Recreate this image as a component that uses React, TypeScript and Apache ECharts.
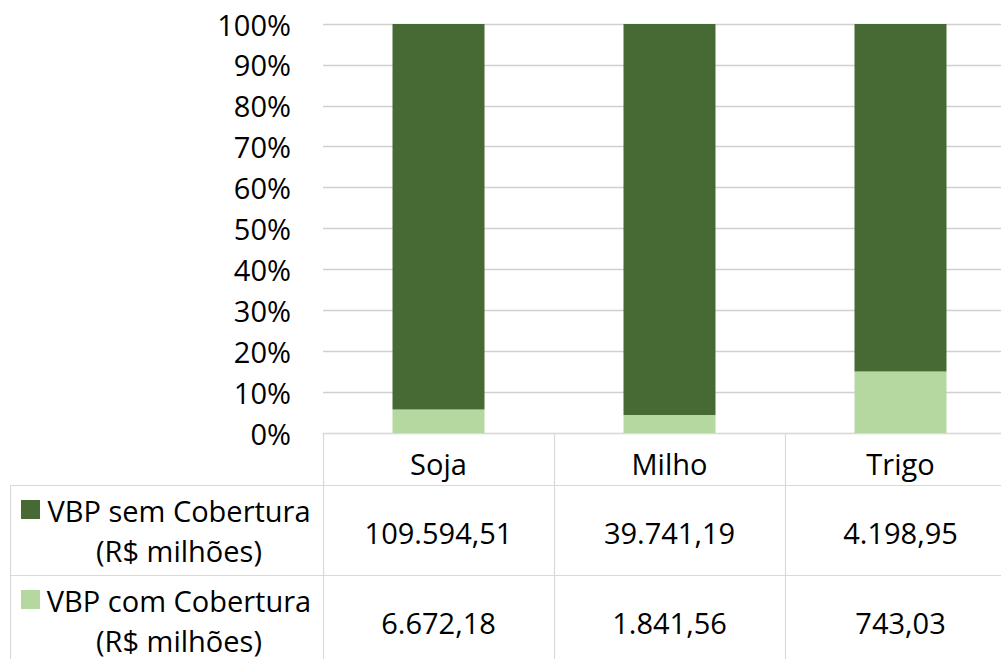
import React, { useEffect, useRef } from "react";
import * as echarts from "echarts";

const categories = ["Soja", "Milho", "Trigo"];
const seriesNames = ["VBP sem Cobertura", "VBP com Cobertura"];
const unitLabel = "(R$ milhões)";
const semCobertura = [109594.51, 39741.19, 4198.95];
const comCobertura = [6672.18, 1841.56, 743.03];
const semLabels = ["109.594,51", "39.741,19", "4.198,95"];
const comLabels = ["6.672,18", "1.841,56", "743,03"];

const DARK = "#476A34";
const LIGHT = "#B5D8A1";
const FONT = "'Open Sans', sans-serif";
const FS = 29;
const LINE = "#d9d9d9";

export default function App() {
  const ref = useRef<HTMLDivElement>(null);
  useEffect(() => {
    if (!ref.current) return;
    const chart = echarts.init(ref.current, null, { renderer: "svg" });
    const W = 1030;
    const H = 659;
    const gridLeft = 323;
    const gridTop = 24;
    const gridW = 693;
    const gridH = 409;
    const axisY = gridTop + gridH;
    const catW = gridW / categories.length;
    const totals = categories.map((_, i) => semCobertura[i] + comCobertura[i]);
    const comPct = comCobertura.map((v, i) => (v / totals[i]) * 100);
    const semPct = semCobertura.map((v, i) => (v / totals[i]) * 100);

    const row1Top = 485;
    const row2Top = 575;
    const rowH = 90;

    const graphics: any[] = [];
    const hline = (y: number, x1: number, x2: number) =>
      graphics.push({
        type: "line",
        shape: { x1, y1: y + 0.5, x2, y2: y + 0.5 },
        style: { stroke: LINE, lineWidth: 1.2 },
        silent: true,
      });
    const vline = (x: number, y1: number, y2: number) =>
      graphics.push({
        type: "line",
        shape: { x1: x + 0.5, y1, x2: x + 0.5, y2 },
        style: { stroke: LINE, lineWidth: 1.2 },
        silent: true,
      });
    hline(row1Top, 10, W);
    hline(row2Top, 10, W);
    vline(10, row1Top, H);
    for (let i = 0; i <= categories.length; i++) {
      vline(gridLeft + i * catW, axisY, H);
    }
    const text = (x: number, y: number, t: string) =>
      graphics.push({
        type: "text",
        x,
        y,
        style: {
          text: t,
          fill: "#000",
          font: `${FS}px ${FONT}`,
          textAlign: "center",
          textVerticalAlign: "middle",
        },
        silent: true,
      });
    const rows = [
      { top: row1Top, color: DARK, name: seriesNames[0], labels: semLabels },
      { top: row2Top, color: LIGHT, name: seriesNames[1], labels: comLabels },
    ];
    rows.forEach((r) => {
      graphics.push({
        type: "rect",
        shape: { x: 21, y: r.top + 15, width: 19, height: 19 },
        style: { fill: r.color },
        silent: true,
      });
      text(179, r.top + 25, r.name);
      text(179, r.top + 65, unitLabel);
      r.labels.forEach((l, i) => {
        text(gridLeft + (i + 0.5) * catW, r.top + rowH / 2 + 2, l);
      });
    });

    chart.setOption({
      animation: false,
      grid: { left: gridLeft, top: gridTop, width: gridW, height: gridH, containLabel: false },
      xAxis: {
        type: "category",
        data: categories,
        axisLine: { show: true, lineStyle: { color: LINE, width: 1.2 } },
        axisTick: { show: false },
        axisLabel: { fontSize: FS, fontFamily: FONT, color: "#000", margin: 16 },
      },
      yAxis: {
        type: "value",
        min: 0,
        max: 100,
        interval: 10,
        axisLine: { show: false },
        axisTick: { show: false },
        axisLabel: { formatter: "{value}%", fontSize: FS, fontFamily: FONT, color: "#000", margin: 32 },
        splitLine: { lineStyle: { color: "#d0d0d0", width: 1.3 } },
      },
      series: [
        {
          name: seriesNames[1],
          type: "bar",
          stack: "total",
          data: comPct,
          barWidth: 92,
          itemStyle: { color: LIGHT },
        },
        {
          name: seriesNames[0],
          type: "bar",
          stack: "total",
          data: semPct,
          barWidth: 92,
          itemStyle: { color: DARK },
        },
      ],
      graphic: graphics,
    });
    return () => chart.dispose();
  }, []);
  return (
    <div style={{ position: "absolute", left: 0, top: 0, width: 1001, height: 659, overflow: "hidden", background: "#fff" }}>
      <div ref={ref} style={{ width: 1030, height: 659 }} />
    </div>
  );
}
